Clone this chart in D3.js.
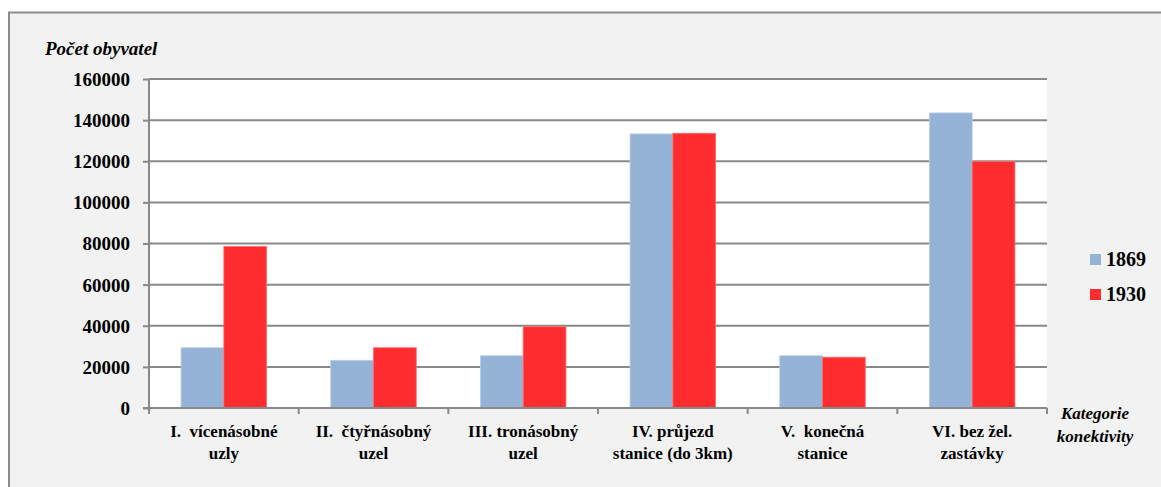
<!DOCTYPE html>
<html><head><meta charset="utf-8">
<script src="https://cdn.jsdelivr.net/npm/d3@7"></script>
<style>html,body{margin:0;padding:0;background:#fff;}svg{display:block;}
svg text{font-family:"Liberation Serif","Times New Roman",Times,serif;}</style>
</head><body>
<script>
const categories = [
  ["I.  vícenásobné", "uzly"],
  ["II.  čtyřnásobný", "uzel"],
  ["III. tronásobný", "uzel"],
  ["IV. průjezd", "stanice (do 3km)"],
  ["V.  konečná", "stanice"],
  ["VI. bez žel.", "zastávky"]
];
const seriesNames = ["1869", "1930"];
const values1869 = [29300, 23200, 25400, 133300, 25400, 143500];
const values1930 = [78500, 29300, 39500, 133600, 24700, 119900];
const yTicks = [0, 20000, 40000, 60000, 80000, 100000, 120000, 140000, 160000];
const colors = ["#95B3D7", "#FF2D2F"];
const yTitle = "Počet obyvatel";
const xTitle = ["Kategorie", "konektivity"];

const W = 1161, H = 487;
const L = 149, R = 1047, T = 79, B = 408;

const svg = d3.select("body").append("svg").attr("width", W).attr("height", H);
svg.append("rect").attr("x", 9).attr("y", 12.5).attr("width", W + 10).attr("height", H + 10)
  .attr("fill", "#F2F2F2").attr("stroke", "#8C8C8C").attr("stroke-width", 2);
svg.append("rect").attr("x", L).attr("y", T).attr("width", R - L).attr("height", B - T).attr("fill", "#fff");

const x = d3.scaleBand().domain(categories.map((d, i) => i)).range([L, R]).paddingInner(0).paddingOuter(0);
const y = d3.scaleLinear().domain([0, 160000]).range([B, T]);
const inner = d3.scaleBand().domain(seriesNames).range([0, x.bandwidth()]).paddingInner(0).paddingOuter(0.75);

// gridlines
svg.append("g").selectAll("line").data(yTicks.filter(v => v > 0)).join("line")
  .attr("x1", L).attr("x2", R).attr("y1", d => y(d)).attr("y2", d => y(d))
  .attr("stroke", "#898989").attr("stroke-width", 2);

// bars
const data = [values1869, values1930];
seriesNames.forEach((s, si) => {
  svg.append("g").selectAll("rect").data(data[si]).join("rect")
    .attr("x", (d, i) => x(i) + inner(s))
    .attr("width", inner.bandwidth())
    .attr("y", d => y(d))
    .attr("height", d => y(0) - y(d))
    .attr("fill", colors[si])
    .attr("stroke", si === 0 ? "#B9CDE5" : "#FF6B6B").attr("stroke-width", 0.8);
});

// y axis
const yAxis = d3.axisLeft(y).tickValues(yTicks).tickSize(6).tickPadding(13).tickFormat(d3.format("d"));
const ga = svg.append("g").attr("transform", `translate(${L},0)`).call(yAxis);
ga.attr("font-family", null).attr("font-size", null);
ga.select(".domain").attr("stroke", "#898989").attr("stroke-width", 2).attr("d", `M0,${T}V${B}`);
ga.selectAll(".tick line").attr("stroke", "#898989").attr("stroke-width", 2);
ga.selectAll(".tick text").attr("font-size", 19).attr("font-weight", "bold").attr("fill", "#000").attr("dy", "0.34em");

// x axis
const gx = svg.append("g");
gx.append("line").attr("x1", L - 6).attr("x2", R).attr("y1", B).attr("y2", B).attr("stroke", "#898989").attr("stroke-width", 2);
const bounds = categories.map((d, i) => x(i)).concat([R]);
gx.selectAll("line.t").data(bounds).join("line").attr("class", "t")
  .attr("x1", d => d).attr("x2", d => d).attr("y1", B).attr("y2", B + 6)
  .attr("stroke", "#898989").attr("stroke-width", 2);
categories.forEach((c, i) => {
  const t = gx.append("text").attr("x", x(i) + x.bandwidth() / 2).attr("y", 437)
    .attr("text-anchor", "middle").attr("font-size", 17).attr("font-weight", "bold")
    .style("white-space", "pre");
  c.forEach((line, li) => t.append("tspan").attr("x", x(i) + x.bandwidth() / 2).attr("dy", li === 0 ? 0 : 22).text(line));
});

// titles
svg.append("text").attr("x", 45).attr("y", 55).attr("font-size", 19)
  .attr("font-weight", "bold").attr("font-style", "italic").text(yTitle);
const xt = svg.append("text").attr("font-size", 17)
  .attr("font-weight", "bold").attr("font-style", "italic").attr("text-anchor", "middle");
xTitle.forEach((t, i) => xt.append("tspan").attr("x", 1095).attr("y", 419 + i * 23).text(t));

// legend
seriesNames.forEach((s, i) => {
  const gy = 254 + i * 35;
  svg.append("rect").attr("x", 1090).attr("y", gy).attr("width", 11).attr("height", 11).attr("fill", colors[i]);
  svg.append("text").attr("x", 1106).attr("y", gy + 12).attr("font-size", 20)
    .attr("font-weight", "bold").text(s);
});
</script>
</body></html>
